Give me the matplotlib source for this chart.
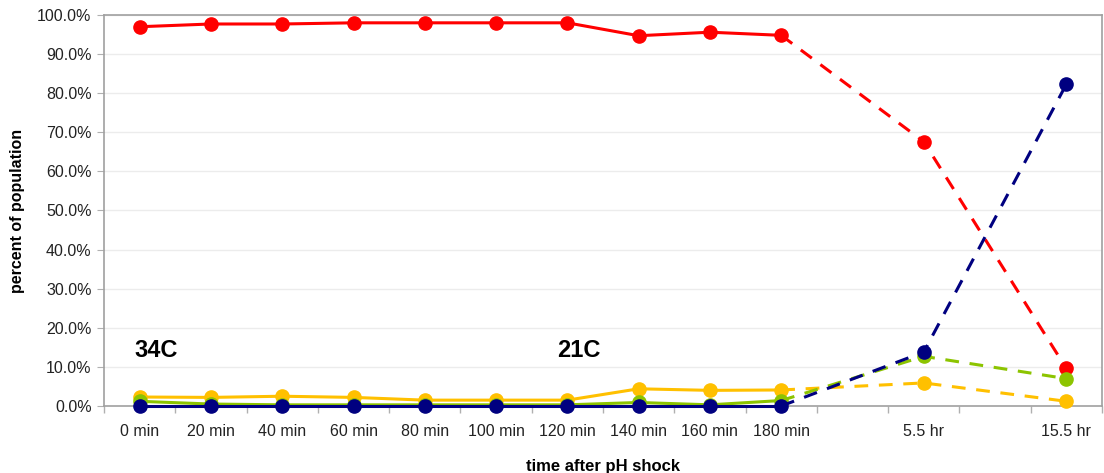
import matplotlib
matplotlib.use("Agg")
import matplotlib.pyplot as plt
from matplotlib.ticker import FuncFormatter, FixedLocator, NullFormatter

plt.rcParams['font.family'] = ['Liberation Sans', 'DejaVu Sans']

# Category labels; the two late time points sit two slots apart on the axis
labels = ["0 min", "20 min", "40 min", "60 min", "80 min", "100 min", "120 min",
          "140 min", "160 min", "180 min", "5.5 hr", "15.5 hr"]
slots = [0, 1, 2, 3, 4, 5, 6, 7, 8, 9, 11, 13]

# Percent of population per phenotype
red = [97.0, 97.7, 97.7, 98.0, 98.0, 98.0, 98.0, 94.7, 95.6, 94.8, 67.6, 9.6]
yellow = [2.3, 2.2, 2.5, 2.2, 1.5, 1.5, 1.5, 4.4, 4.0, 4.1, 5.9, 1.2]
green = [1.2, 0.5, 0.3, 0.3, 0.3, 0.3, 0.3, 0.9, 0.3, 1.4, 12.7, 7.0]
navy = [0.0, 0.0, 0.0, 0.0, 0.0, 0.0, 0.0, 0.0, 0.0, 0.0, 13.8, 82.3]

series = [(red, "#ff0000"), (yellow, "#ffc000"), (green, "#8cc400"), (navy, "#000080")]

fig = plt.figure(figsize=(11.04, 4.73), dpi=100)
ax = fig.add_axes([104 / 1104, 1 - 406 / 473, (1102 - 104) / 1104, (406 - 15) / 473])

n_solid = 10
for k, (vals, col) in enumerate(series):
    z = 3 + k * 0.1
    # continuous sampling: solid; later sparse points: dashed
    ax.plot(slots[:n_solid], vals[:n_solid], color=col, lw=2.2,
            solid_capstyle="round", clip_on=False, zorder=z)
    ax.plot(slots[n_solid - 1:], vals[n_solid - 1:], color=col, lw=2.2,
            dashes=(4.5, 3.5), clip_on=False, zorder=z)
    ax.plot(slots, vals, ls="none", marker="o", ms=9.5, color=col, mec=col,
            clip_on=False, zorder=z)

ax.set_xlim(-0.5, 13.5)
ax.set_ylim(0, 100)
ax.set_yticks(range(0, 101, 10))
ax.yaxis.set_major_formatter(FuncFormatter(lambda v, p: f"{v:.1f}%"))
ax.grid(axis="y", color="#ececec", lw=1)
ax.set_axisbelow(True)

ax.set_xticks(slots)
ax.set_xticklabels(labels)
ax.xaxis.set_minor_locator(FixedLocator([i + 0.5 for i in range(-1, 14)]))
ax.xaxis.set_minor_formatter(NullFormatter())
ax.tick_params(axis="x", which="major", length=0, pad=13, labelsize=11.5, colors="#222222")
ax.tick_params(axis="x", which="minor", length=5, color="#b0b0b0", width=1)
ax.tick_params(axis="y", length=5, color="#b0b0b0", labelsize=11.5, labelcolor="#222222", pad=4)

for s in ax.spines.values():
    s.set_color("#a0a0a0")
    s.set_linewidth(1.2)

ax.set_ylabel("percent of population", fontsize=11.5, fontweight="bold", labelpad=9)
ax.set_xlabel("time after pH shock", fontsize=12, fontweight="bold", labelpad=14)

ax.text(-0.08, 14.3, "34C", fontsize=17, fontweight="bold", va="center", ha="left")
ax.text(5.85, 14.3, "21C", fontsize=17, fontweight="bold", va="center", ha="left")

fig.savefig("out.png", dpi=100)
